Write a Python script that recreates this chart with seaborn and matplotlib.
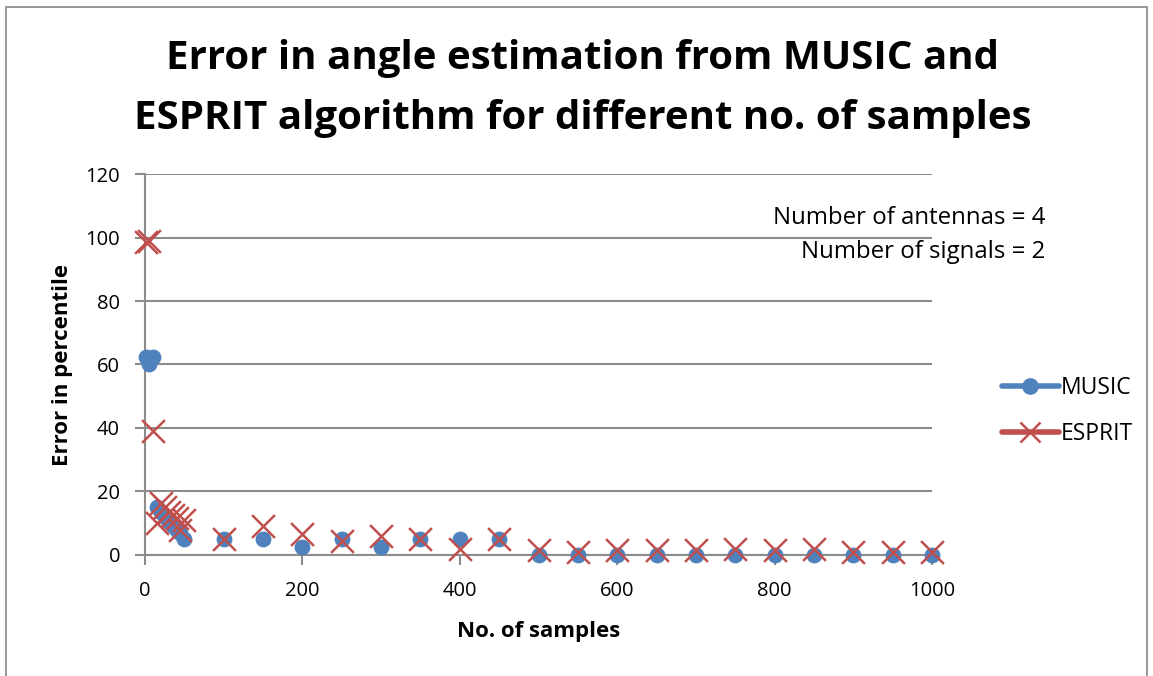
import matplotlib
matplotlib.use("Agg")
import matplotlib.pyplot as plt
import seaborn as sns
import pandas as pd
from matplotlib.lines import Line2D
from matplotlib.patches import Rectangle

# Number of samples and percentage error for each algorithm
music_samples = [1, 5, 10, 15, 20, 25, 30, 35, 40, 45, 50, 100, 150, 200, 250, 300, 350, 400, 450,
                 500, 550, 600, 650, 700, 750, 800, 850, 900, 950, 1000]
music_error = [62.5, 60, 62.5, 15, 13.5, 12, 10.5, 9, 8, 7, 5, 5, 5, 2.5, 5, 2.5, 5, 5, 5,
               0, 0, 0, 0, 0, 0, 0, 0, 0, 0, 0]

esprit_samples = [1, 5, 10, 15, 20, 25, 30, 35, 40, 45, 50, 100, 150, 200, 250, 300, 350, 400, 450,
                  500, 550, 600, 650, 700, 750, 800, 850, 900, 950, 1000]
esprit_error = [98.5, 99, 39, 10, 16.5, 15, 13.5, 12.5, 11.5, 8, 11, 5, 9, 6.5, 4.5, 6, 5, 2, 5,
                1.5, 1, 1.5, 1.5, 1.5, 2, 1.5, 2, 1, 1, 1]

y_ticks = [0, 20, 40, 60, 80, 100, 120]
x_ticks = [0, 200, 400, 600, 800, 1000]

blue = "#4F81BD"
red = "#C0504D"
grid_grey = "#8C8C8C"

sns.set_theme(style="white")
plt.rcParams["font.family"] = ["Open Sans", "DejaVu Sans"]
plt.rcParams["text.color"] = "black"
plt.rcParams["axes.labelcolor"] = "black"

df = pd.concat([
    pd.DataFrame({"samples": music_samples, "error": music_error, "algorithm": "MUSIC"}),
    pd.DataFrame({"samples": esprit_samples, "error": esprit_error, "algorithm": "ESPRIT"}),
])

fig = plt.figure(figsize=(11.53, 6.76), dpi=100)
ax = fig.add_axes([0.1258, 0.179, 0.8083 - 0.1258, 0.7426 - 0.179])

sns.scatterplot(data=df[df.algorithm == "MUSIC"], x="samples", y="error", ax=ax,
                color=blue, marker="o", s=130, edgecolor=blue, linewidth=0, zorder=3,
                legend=False, clip_on=False)
sns.scatterplot(data=df[df.algorithm == "ESPRIT"], x="samples", y="error", ax=ax,
                color=red, marker="x", s=270, linewidth=1.8, zorder=4, legend=False,
                clip_on=False)

ax.set_xlim(0, 1000)
ax.set_ylim(0, 120)
ax.set_xticks(x_ticks)
ax.set_yticks(y_ticks)
ax.yaxis.grid(True, color=grid_grey, linewidth=1.5)
ax.xaxis.grid(False)
ax.set_axisbelow(True)
for side in ["top", "right"]:
    ax.spines[side].set_visible(False)
for side in ["left", "bottom"]:
    ax.spines[side].set_color(grid_grey)
    ax.spines[side].set_linewidth(1.5)
ax.tick_params(axis="both", which="both", direction="out", length=7, width=1.5,
               color=grid_grey, labelsize=14.5, labelcolor="black")
ax.tick_params(axis="y", pad=11)
ax.tick_params(axis="x", pad=12)
ax.tick_params(left=True, bottom=True)

ax.set_xlabel("No. of samples", fontsize=16, fontweight="bold", labelpad=14)
ax.set_ylabel("Error in percentile", fontsize=16, fontweight="bold", labelpad=9)

title_lines = ["Error in angle estimation from MUSIC and",
               "ESPRIT algorithm for different no. of samples"]
fig.text(0.505, 1 - 58 / 676, title_lines[0], ha="center", va="center",
         fontsize=29, fontweight="bold")
fig.text(0.505, 1 - 118 / 676, title_lines[1], ha="center", va="center",
         fontsize=29, fontweight="bold")

fig.text(0.907, 1 - 218 / 676, "Number of antennas = 4", ha="right", va="center", fontsize=17.3)
fig.text(0.907, 1 - 252 / 676, "Number of signals = 2", ha="right", va="center", fontsize=17.3)

handles = [
    Line2D([0], [0], color=blue, marker="o", markersize=11, linewidth=4),
    Line2D([0], [0], color=red, marker="x", markersize=15, markeredgewidth=1.8, linewidth=4),
]
fig.legend(handles, ["MUSIC", "ESPRIT"], loc="center left", bbox_to_anchor=(0.851, 1 - 411 / 676),
           frameon=False, fontsize=16.5, handlelength=2.5, handletextpad=0.05,
           labelspacing=1.0)

fig.patches.append(Rectangle((0.005, -0.01), 0.99, 1.0, transform=fig.transFigure,
                             fill=False, edgecolor="#888888", linewidth=1.2))

fig.savefig("out.png", dpi=100)
